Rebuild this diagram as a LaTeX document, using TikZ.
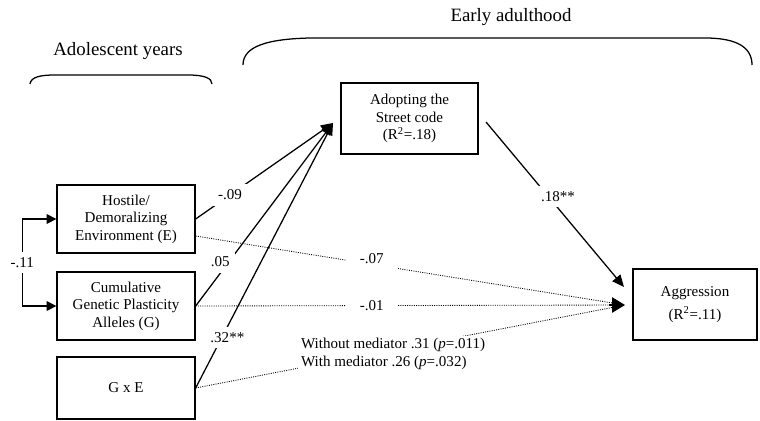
\documentclass[tikz,border=0pt]{standalone}
\usepackage{fontspec}
\setmainfont{Liberation Serif}
\usetikzlibrary{arrows.meta,calc,positioning}
\tikzset{
  >={Triangle[length=3mm,width=2.6mm]},
  pbox/.style={draw=black, line width=0.9pt, align=center, inner sep=2pt,
               font=\fontsize{10.7}{12.5}\selectfont},
  ppath/.style={->, line width=0.9pt},
  pdot/.style={line width=0.6pt, dash pattern=on 0.7pt off 0.9pt, shorten >=2mm},
  phead/.style={-{Triangle[length=3.2mm,width=3.8mm]}, line width=0.9pt},
  ptwo/.style={{Triangle[length=2.4mm,width=2.4mm]}-{Triangle[length=2.4mm,width=2.4mm]},
               line width=0.9pt},
  pnum/.style={fill=white, inner sep=4pt, font=\fontsize{10.7}{12.5}\selectfont},
  ptitle/.style={font=\fontsize{13.4}{16}\selectfont},
  pbrace/.style={line width=0.9pt},
}
\begin{document}
\begin{tikzpicture}[x=0.025cm,y=-0.025cm]
  \useasboundingbox (0,0) rectangle (760,420);

  % periodos
  \node[ptitle] (adol) at (118,51) {Adolescent years};
  \node[ptitle] (early) at (511,17) {Early adulthood};
  \draw[pbrace] (30,84) .. controls (31,77) and (40,75) .. (55,75) -- (188,75)
                .. controls (204,75) and (212,78) .. (212,84);
  \draw[pbrace] (243,65) .. controls (243,46) and (268,39) .. (310,38) -- (705,38)
                .. controls (738,38) and (752,48) .. (752,65);

  % variaveis
  \node[pbox, minimum width=3.45cm, minimum height=1.7cm] (hostile) at (126,219)
       {Hostile/\\Demoralizing\\Environment (E)};
  \node[pbox, minimum width=3.45cm, minimum height=1.7cm] (genes) at (126,306)
       {Cumulative\\Genetic Plasticity\\Alleles (G)};
  \node[pbox, minimum width=3.45cm, minimum height=1.55cm] (gxe) at (126,388) {G x E};
  \node[pbox, minimum width=3.425cm, minimum height=1.775cm] (street) at (409.5,118.5)
       {Adopting the\\Street code\\(R\textsuperscript{2}=.18)};
  \node[pbox, minimum width=3.1cm, minimum height=1.775cm] (aggr) at (695,304.5)
       {Aggression\\[4pt](R\textsuperscript{2}=.11)};

  \coordinate (tipS) at (333,123);
  \coordinate (outS) at (486,122);
  \coordinate (tipA) at (624,287);
  \coordinate (tipD) at (625,305);
  \coordinate (headD) at (609,305);

  % caminhos
  \draw[ptwo] (hostile.west) -- ++(-34,0) |- node[pnum, pos=0.25] {-.11} (genes.west);
  \draw[ppath] (hostile.east) -- node[pnum, pos=0.25] {-.09} (tipS);
  \draw[ppath] (genes.east) -- node[pnum, pos=0.24, xshift=-6pt] {.05} (tipS);
  \draw[ppath] (gxe.east) -- node[pnum, pos=0.19, xshift=4pt] {.32**} (tipS);
  \draw[ppath] (outS) -- node[pnum, pos=0.45, xshift=7pt] {.18**} (tipA);

  \draw[pdot] ($(hostile.east)+(0,17)$) -- node[pnum, pos=0.41, yshift=4pt, inner xsep=10pt] {-.07} (tipD);
  \draw[pdot] (genes.east) -- node[pnum, pos=0.41, inner xsep=10pt] {-.01} (tipD);
  \draw[pdot] (gxe.east) -- node[pnum, pos=0.46, yshift=-3pt, align=left, inner sep=2pt]
       {Without mediator .31 (\textit{p}=.011)\\With mediator .26 (\textit{p}=.032)} (tipD);
  \draw[phead] (headD) -- (tipD);

\end{tikzpicture}
\end{document}
